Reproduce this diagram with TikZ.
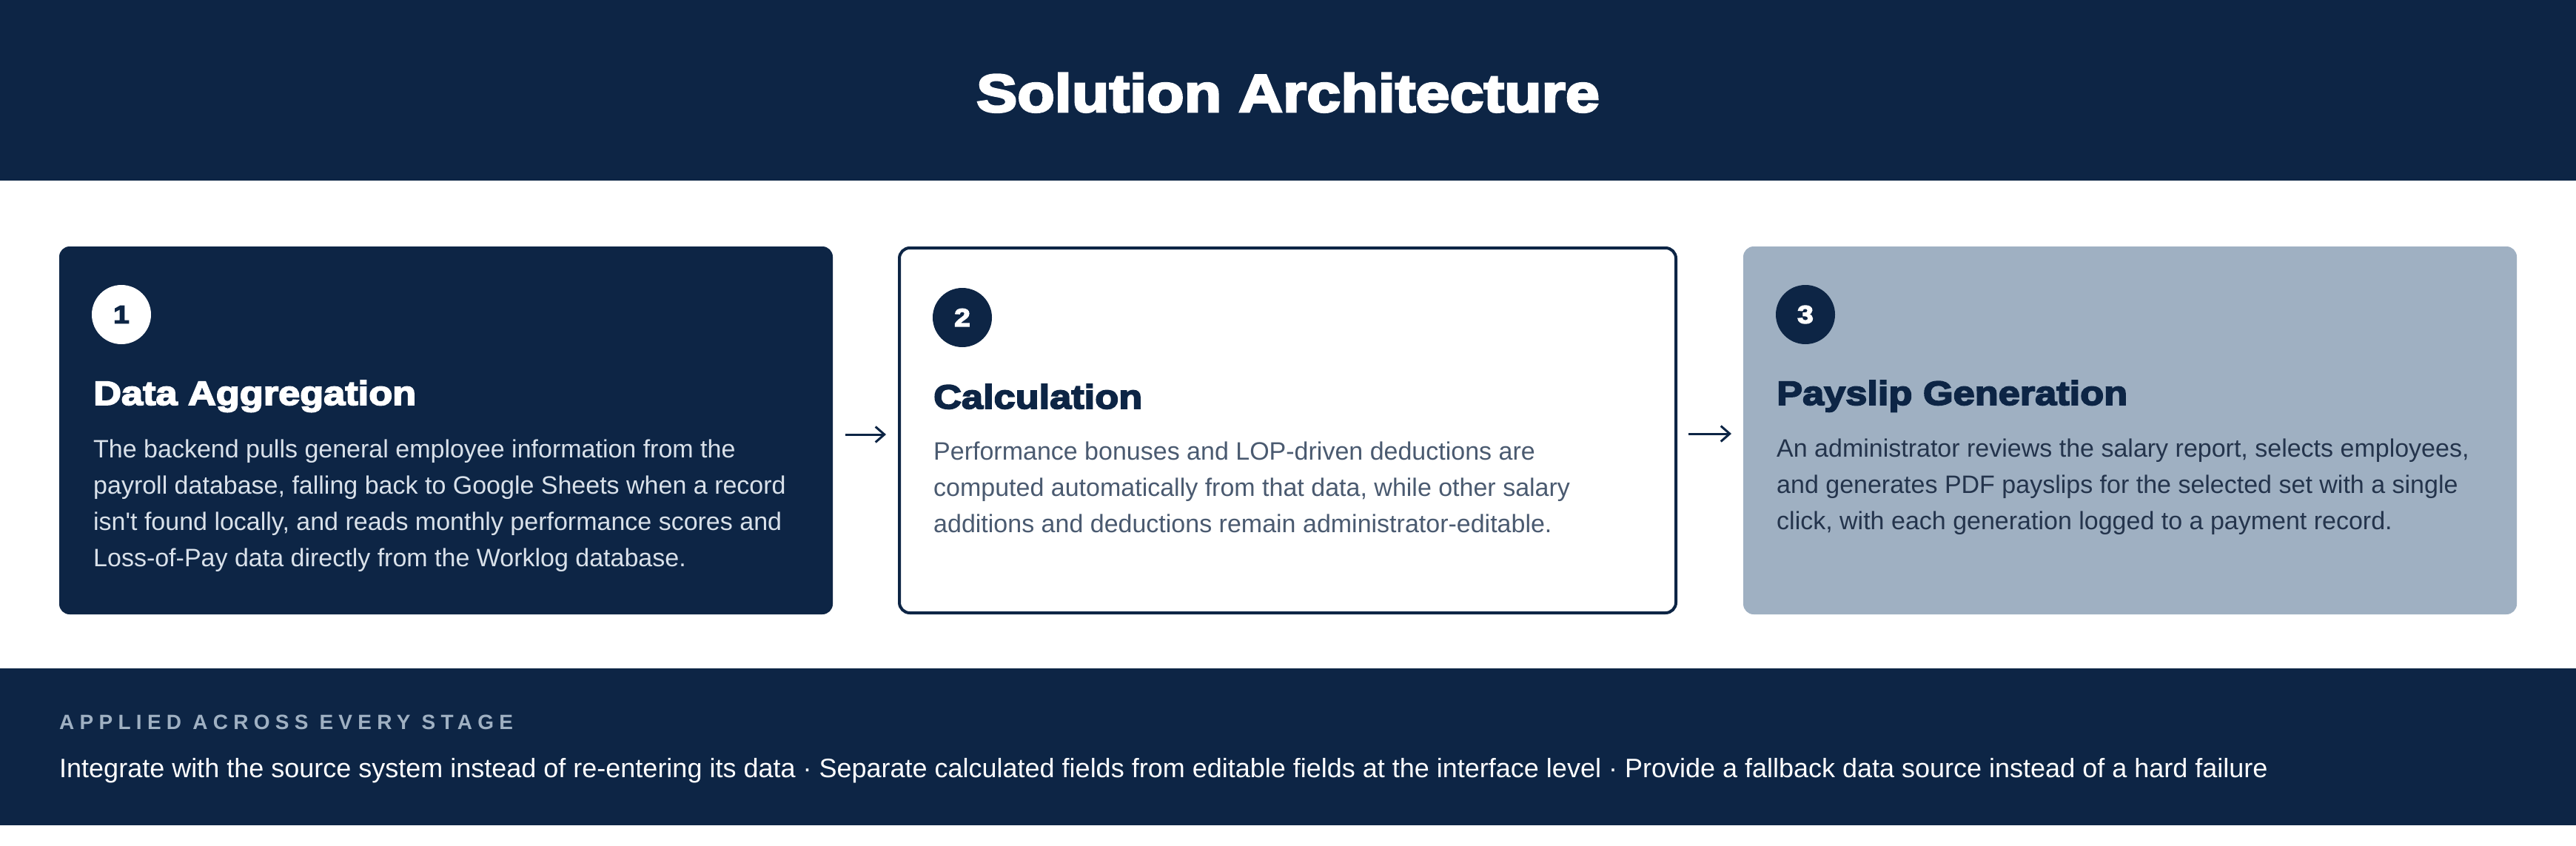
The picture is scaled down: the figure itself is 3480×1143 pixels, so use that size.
\documentclass[tikz,border=0pt]{standalone}
\usepackage{fontspec}
\setmainfont{Liberation Sans}
\newfontfamily\heavy[FakeStretch=1.15,FakeBold=4]{Liberation Sans Bold}
\newfontfamily\capsfont[LetterSpace=26]{Liberation Sans Bold}
\usetikzlibrary{arrows.meta}
\definecolor{navy}{HTML}{0D2545}
\definecolor{steel}{HTML}{9FB0C2}
\definecolor{paleText}{HTML}{D9E1EA}
\definecolor{slateText}{HTML}{4A5A70}
\definecolor{deepText}{HTML}{24344C}
\tikzset{
  band/.style={fill=navy, draw=none},
  cardbox/.style={rectangle, rounded corners=14pt, inner sep=0pt, outer sep=0pt, anchor=north west},
  numdot/.style={circle, minimum size=80pt, inner sep=0pt, font=\heavy\fontsize{34}{34}\selectfont},
  headtxt/.style={anchor=base west, inner sep=0pt, font=\heavy\fontsize{45.5}{45.5}\selectfont},
  bodytxt/.style={anchor=base west, inner sep=0pt, font=\fontsize{34}{49}\selectfont},
  flow/.style={draw=navy, line width=3pt, -{Straight Barb[length=12pt,width=21pt,line width=3pt]}},
}
\newcommand{\para}[1]{\parbox[t]{1000pt}{\raggedright #1}}
\begin{document}
\begin{tikzpicture}[x=1pt,y=-1pt]
\useasboundingbox (0,0) rectangle (3480,1143);
\fill[white] (0,0) rectangle (3480,1143);
% header
\fill[band] (0,0) rectangle (3480,244);
\node[anchor=base, inner sep=0pt, text=white, font=\heavy\fontsize{72}{72}\selectfont] (title) at (1740,151) {Solution Architecture};
% cards
\node[cardbox, fill=navy, minimum width=1045pt, minimum height=497pt] (c1) at (80,333) {};
\node[cardbox, fill=white, draw=navy, line width=4pt, minimum width=1049pt, minimum height=493pt] (c2) at (1215,335) {};
\node[cardbox, fill=steel, minimum width=1045pt, minimum height=497pt] (c3) at (2355,333) {};
% numbers
\node[numdot, fill=white, text=navy] (n1) at (164,425) {1};
\node[numdot, fill=navy, text=white] (n2) at (1300,429) {2};
\node[numdot, fill=navy, text=white] (n3) at (2439,425) {3};
% headings
\node[headtxt, text=white] (h1) at (126,547) {Data Aggregation};
\node[headtxt, text=navy] (h2) at (1261,552) {Calculation};
\node[headtxt, text=navy] (h3) at (2400,547) {Payslip Generation};
% bodies
\node[bodytxt, text=paleText] (b1) at (126,618) {\para{The backend pulls general employee information from the\\payroll database, falling back to Google Sheets when a record\\isn\textquotesingle t found locally, and reads monthly performance scores and\\Loss-of-Pay data directly from the Worklog database.}};
\node[bodytxt, text=slateText] (b2) at (1261,621) {\para{Performance bonuses and LOP-driven deductions are\\computed automatically from that data, while other salary\\additions and deductions remain administrator-editable.}};
\node[bodytxt, text=deepText] (b3) at (2400,617) {\para{An administrator reviews the salary report, selects employees,\\and generates PDF payslips for the selected set with a single\\click, with each generation logged to a payment record.}};
% arrows
\draw[flow, shorten <=17pt, shorten >=18pt] ([yshift=-5.5pt]c1.east) -- ([yshift=-5.5pt]c2.west);
\draw[flow, shorten <=17pt, shorten >=16pt] ([yshift=-4.5pt]c2.east) -- ([yshift=-4.5pt]c3.west);
% footer band
\fill[band] (0,903) rectangle (3480,1115);
\node[anchor=base west, inner sep=0pt, text=steel, font=\capsfont\fontsize{28}{28}\selectfont] (lab) at (80,985) {APPLIED ACROSS EVERY STAGE};
\node[anchor=base west, inner sep=0pt, text=white, font=\fontsize{36}{36}\selectfont] (foot) at (80,1050) {Integrate with the source system instead of re-entering its data · Separate calculated fields from editable fields at the interface level · Provide a fallback data source instead of a hard failure};
\end{tikzpicture}
\end{document}
